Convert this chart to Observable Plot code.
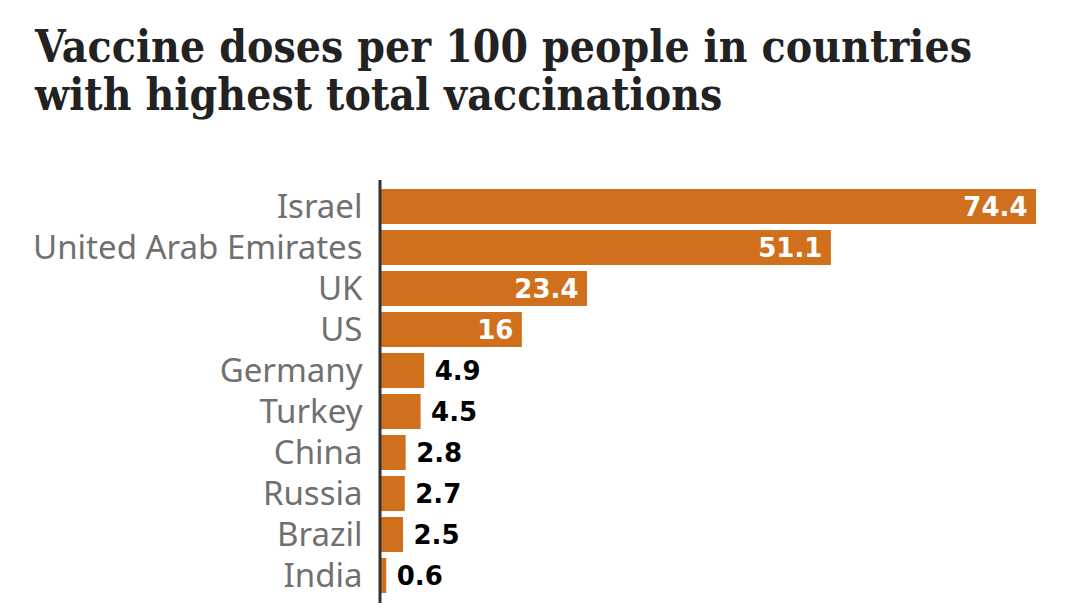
<!DOCTYPE html>
<html>
<head>
<meta charset="utf-8">
<script src="https://cdn.jsdelivr.net/npm/d3@7"></script>
<script src="https://cdn.jsdelivr.net/npm/@observablehq/plot@0.6"></script>
<style>
  html, body { margin: 0; padding: 0; background: #fff; width: 1080px; height: 612px; overflow: hidden; }
  h1 { margin: 0; position: absolute; left: 35px; top: 23px; font-family: "DejaVu Serif", serif; font-stretch: condensed; font-weight: bold; font-size: 44px; line-height: 48px; color: #222; white-space: nowrap; letter-spacing: 0.1px; }
  #chart { position: absolute; left: 0; top: 150px; }
</style>
</head>
<body>
<h1>Vaccine doses per 100 people in countries<br>with highest total vaccinations</h1>
<div id="chart"></div>
<script>
const countries = ["Israel", "United Arab Emirates", "UK", "US", "Germany", "Turkey", "China", "Russia", "Brazil", "India"];
const doses = [74.4, 51.1, 23.4, 16, 4.9, 4.5, 2.8, 2.7, 2.5, 0.6];
const insideThreshold = 10;

const data = countries.map((c, i) => ({country: c, value: doses[i]}));
const inside = data.filter(d => d.value >= insideThreshold);
const outside = data.filter(d => d.value < insideThreshold);

const labelStyle = {fontSize: 26, fontWeight: "bold", fontFamily: "'DejaVu Sans', sans-serif", letterSpacing: "-0.8px", dy: 1};

const chart = Plot.plot({
  width: 1080,
  height: 462,
  marginLeft: 381,
  marginRight: 44,
  marginTop: 30,
  marginBottom: 9,
  style: {fontFamily: "'Noto Sans', sans-serif", background: "#fff"},
  x: {domain: [0, 74.4], axis: null},
  y: {domain: countries, padding: 0.136, label: null},
  marks: [
    Plot.barX(data, {x: "value", y: "country", fill: "#D1701C"}),
    Plot.ruleX([0], {stroke: "#333", strokeWidth: 3, dx: -1.5}),
    Plot.axisY({tickSize: 0, tickPadding: 19, fontSize: 33, color: "#707070", label: null}),
    Plot.text(inside, {x: "value", y: "country", text: d => String(d.value), textAnchor: "end", dx: -9, fill: "#fff", ...labelStyle}),
    Plot.text(outside, {x: "value", y: "country", text: d => String(d.value), textAnchor: "start", dx: 10, fill: "#000", ...labelStyle})
  ]
});
document.getElementById("chart").appendChild(chart);
</script>
</body>
</html>
